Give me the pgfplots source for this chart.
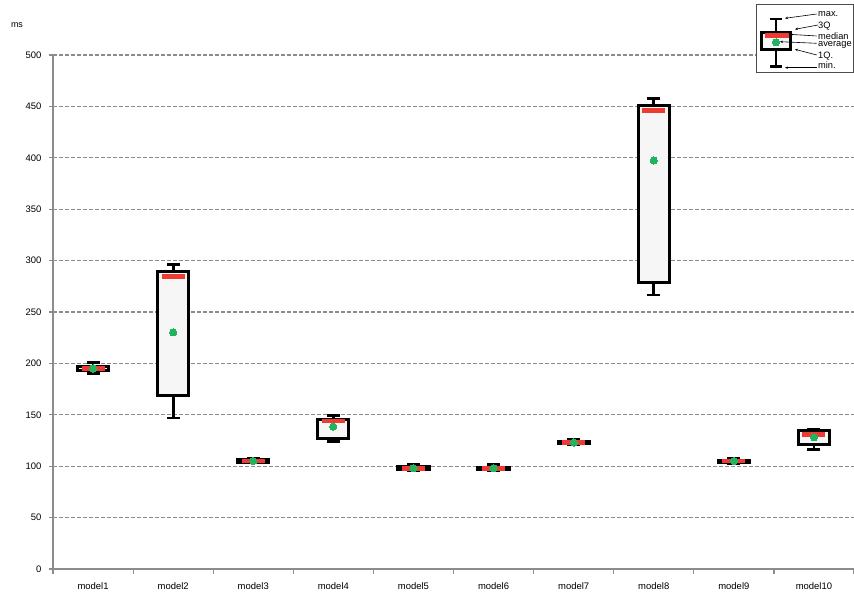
\documentclass[border=0pt]{standalone}
\usepackage{fontspec}
\setmainfont{Liberation Sans}
\usepackage{pgfplots}
\pgfplotsset{compat=1.18}
\usetikzlibrary{arrows.meta}
\definecolor{medred}{HTML}{EE3B32}
\definecolor{avggreen}{HTML}{22B35E}
\definecolor{gridgray}{HTML}{8C8C8C}
\definecolor{boxfill}{HTML}{F6F6F6}
\pgfplotsset{
  whisk/.style={black, line width=2.7bp, mark=-, mark size=6.5bp, mark options={solid, black, line width=2.7bp}},
  bx/.style={draw=black, line width=3bp, fill=boxfill, mark=none, line join=miter},
  med/.style={only marks, color=medred, mark=-, mark size=11.5bp, mark options={medred, line width=4.7bp}},
  avg/.style={only marks, color=avggreen, mark=*, mark size=3.6bp, mark options={draw=avggreen, line width=0pt, fill=avggreen}},
}
\begin{document}
\begin{tikzpicture}
\useasboundingbox (-53bp,-28bp) rectangle (801bp,569bp);
\begin{axis}[
  at={(0,0)}, anchor=south west,
  scale only axis, width=801bp, height=514bp,
  xmin=0.5, xmax=10.5, ymin=0, ymax=500,
  axis lines*=left,
  axis line style={gridgray, line width=1.5bp},
  ytick={0,50,...,500},
  xtick={1,...,10},
  xticklabels={model1,model2,model3,model4,model5,model6,model7,model8,model9,model10},
  minor xtick={0.5,1.5,...,10.5},
  major x tick style={draw=none},
  tick align=outside,
  tick style={gridgray, line width=1.2bp},
  major tick length=4bp, minor tick length=5bp,
  ymajorgrids,
  major grid style={gridgray, line width=1.1bp, dash pattern=on 4bp off 2bp},
  tick label style={font=\fontsize{9.5}{11}\selectfont, black},
  xticklabel style={yshift=-6bp},
  yticklabel style={xshift=-4bp},
  /pgf/number format/assume math mode=true,
  clip=false,
]
% whiskers (min to max)
\addplot[whisk] coordinates {(1,190) (1,201)};
\addplot[whisk] coordinates {(2,147) (2,296.5)};
\addplot[whisk] coordinates {(3,103) (3,108)};
\addplot[whisk] coordinates {(4,124) (4,149)};
\addplot[whisk] coordinates {(5,95.5) (5,102)};
\addplot[whisk] coordinates {(6,96) (6,101.5)};
\addplot[whisk] coordinates {(7,121) (7,126)};
\addplot[whisk] coordinates {(8,266.5) (8,458)};
\addplot[whisk] coordinates {(9,102) (9,108)};
\addplot[whisk] coordinates {(10,116) (10,136)};
% boxes (1Q to 3Q)
\addplot[bx] coordinates {(0.805,193) (1.195,193) (1.195,197) (0.805,197)} -- cycle;
\addplot[bx] coordinates {(1.805,168.5) (2.195,168.5) (2.195,289) (1.805,289)} -- cycle;
\addplot[bx] coordinates {(2.805,104) (3.195,104) (3.195,106.5) (2.805,106.5)} -- cycle;
\addplot[bx] coordinates {(3.805,127) (4.195,127) (4.195,145.5) (3.805,145.5)} -- cycle;
\addplot[bx] coordinates {(4.805,97) (5.195,97) (5.195,99.5) (4.805,99.5)} -- cycle;
\addplot[bx] coordinates {(5.805,97) (6.195,97) (6.195,99) (5.805,99)} -- cycle;
\addplot[bx] coordinates {(6.805,122) (7.195,122) (7.195,124.5) (6.805,124.5)} -- cycle;
\addplot[bx] coordinates {(7.805,279) (8.195,279) (8.195,450.7) (7.805,450.7)} -- cycle;
\addplot[bx] coordinates {(8.805,104) (9.195,104) (9.195,106) (8.805,106)} -- cycle;
\addplot[bx] coordinates {(9.805,121) (10.195,121) (10.195,134.5) (9.805,134.5)} -- cycle;
% medians
\addplot[med] coordinates {(1,195) (2,284.7) (3,105) (4,144) (5,98) (6,98) (7,123) (8,446) (9,105) (10,131)};
% averages
\addplot[avg] coordinates {(1,195) (2,230.2) (3,105) (4,138.5) (5,98) (6,98) (7,123) (8,397.4) (9,105) (10,128.1)};
\end{axis}
\node[font=\fontsize{9}{11}\selectfont, anchor=center] at (-36bp,544bp) {ms};
% legend frame
\draw[fill=white, draw=black!70, line width=0.8bp] (703bp,497bp) rectangle (800bp,565bp);
\begin{axis}[
  at={(703bp,497bp)}, anchor=south west,
  scale only axis, width=40bp, height=60bp,
  xmin=0, xmax=40, ymin=0, ymax=60,
  hide axis, clip=false,
]
\addplot[whisk, mark size=5.85bp] coordinates {(20,5.3) (20,53)};
\addplot[bx] coordinates {(5.5,22.8) (34,22.8) (34,39.5) (5.5,39.5)} -- cycle;
\addplot[med, mark size=12bp] coordinates {(21,36.2)};
\addplot[avg] coordinates {(20,29.7)};
\end{axis}
\begin{scope}[line width=0.6bp, -{Stealth[length=3bp,width=2.5bp]}]
\draw (763.7bp,555bp) -- (732bp,550.7bp);
\draw (765bp,544bp) -- (742bp,539.7bp);
\draw (763.7bp,533bp) -- (736.3bp,534.7bp);
\draw (763.7bp,525.7bp) -- (727bp,527.3bp);
\draw (763.7bp,514bp) -- (742bp,519.7bp);
\draw (763.7bp,501.3bp) -- (732bp,501.3bp);
\end{scope}
\begin{scope}[font=\fontsize{9.3}{10}\selectfont, inner sep=0pt, anchor=base west]
\node at (765bp,552.3bp) {max.};
\node at (765bp,540.7bp) {3Q};
\node at (765bp,529.9bp) {median};
\node at (765bp,522.1bp) {average};
\node at (765bp,510.7bp) {1Q.};
\node at (765bp,500bp) {min.};
\end{scope}
\end{tikzpicture}
\end{document}
